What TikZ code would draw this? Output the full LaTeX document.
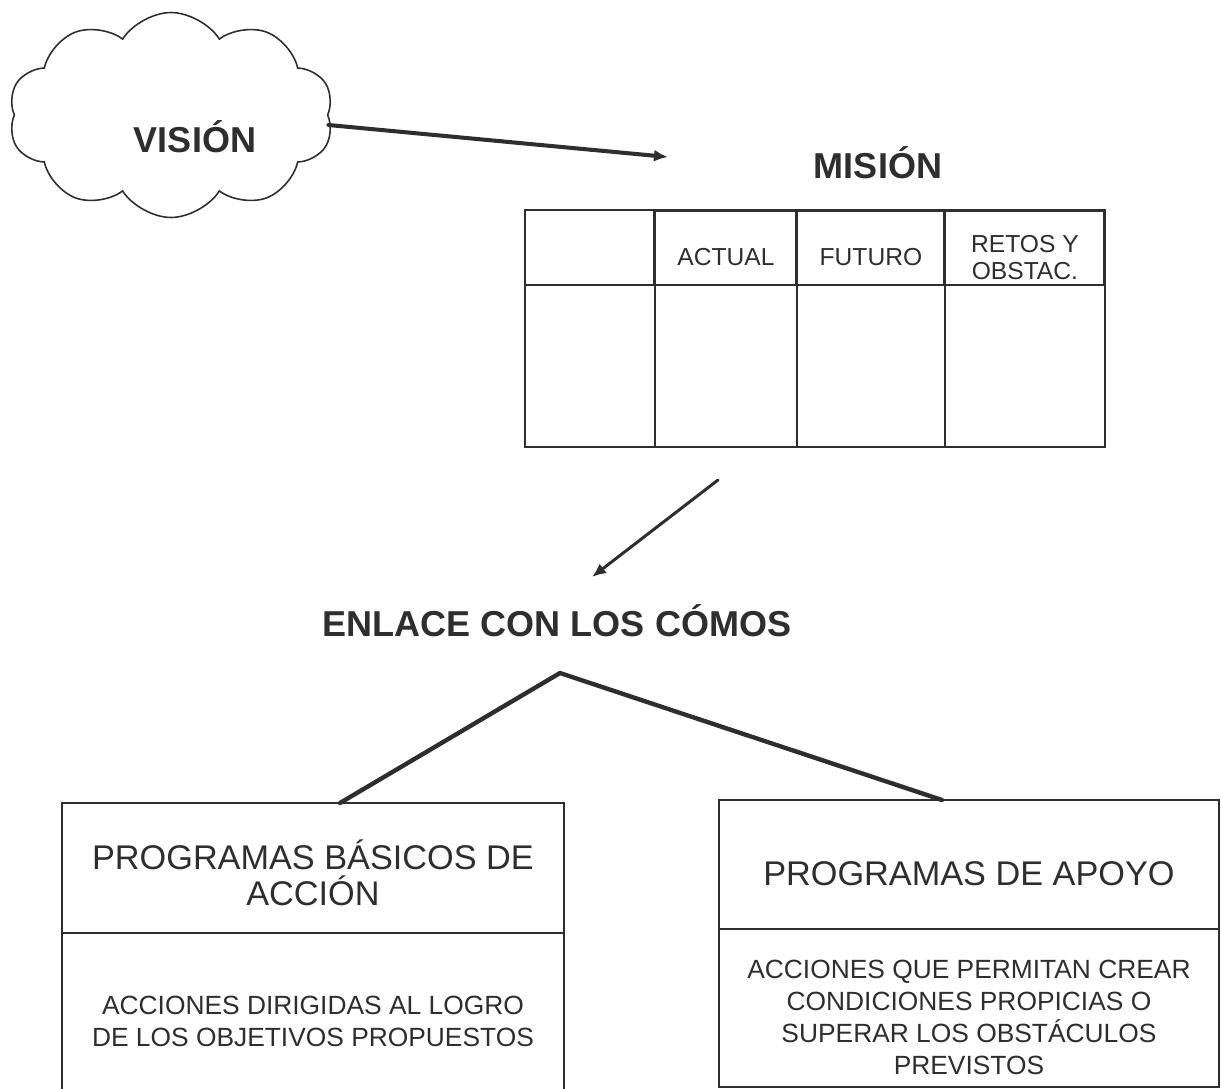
\documentclass[tikz,border=0pt]{standalone}
\usepackage{fontspec}
\setmainfont{Liberation Sans}
\usepackage{tikz}
\usetikzlibrary{arrows.meta}
\usetikzlibrary{shapes.symbols}
\usetikzlibrary{positioning}

\definecolor{ink}{gray}{0.18}
\tikzset{
    heading/.style={font=\fontsize{20.5}{22}\selectfont\bfseries, text=ink},
    cell/.style={draw=ink, line width=1.1pt, outer sep=0pt, inner sep=0pt},
    headcell/.style={cell, line width=1.7pt, align=center, font=\fontsize{14}{15}\selectfont, text=ink},
    panel/.style={draw=ink, line width=1.4pt, outer sep=0pt, inner sep=0pt},
    titletext/.style={align=center, text=ink, inner sep=0pt, font=\fontsize{19.5}{20.5}\selectfont},
    bodytext/.style={align=center, text=ink, inner sep=0pt, font=\fontsize{15}{18.2}\selectfont},
    link/.style={draw=ink, line width=2.5pt, line cap=round, line join=round},
    pointer/.style={draw=ink, line cap=round, -{Latex[length=2.8mm,width=2.4mm]}},
}

\begin{document}
\begin{tikzpicture}[x=0.02cm,y=-0.02cm]
            \useasboundingbox (0,0) rectangle (1221,1089);

            \node[cloud, draw=ink, line width=0.9pt, cloud puffs=10, cloud puff arc=115, aspect=1.6,
                  minimum width=6.5cm, minimum height=4.1cm] (vision-cloud) at (171,115) {};
            \node[heading] (vision) at (195,137) {VISIÓN};
            \node[heading] (mision) at (878,163) {MISIÓN};

            \node[cell, minimum width=2.6cm, minimum height=3.24cm, anchor=north west] (c0) at (525,285) {};
            \node[cell, minimum width=2.84cm, minimum height=3.24cm, right=0pt of c0] (c1) {};
            \node[cell, minimum width=2.96cm, minimum height=3.24cm, right=0pt of c1] (c2) {};
            \node[cell, minimum width=3.2cm, minimum height=3.24cm, right=0pt of c2] (c3) {};
            \node[cell, minimum width=2.6cm, minimum height=1.5cm, above=0pt of c0] (h0) {};
            \node[headcell, minimum width=2.84cm, minimum height=1.5cm, above=0pt of c1] (h1) {};
            \node[headcell, minimum width=2.96cm, minimum height=1.5cm, above=0pt of c2] (h2) {};
            \node[headcell, minimum width=3.2cm, minimum height=1.5cm, above=0pt of c3] (h3) {};
            \node[headcell, draw=none] (actual) at ([yshift=-0.2cm]h1.center) {ACTUAL};
            \node[headcell, draw=none] (futuro) at ([yshift=-0.2cm]h2.center) {FUTURO};
            \node[headcell, draw=none] (retos) at ([yshift=-0.2cm]h3.center) {RETOS Y\\OBSTAC.};

            \coordinate (mision-in) at (668,157);
            \coordinate (mision-out) at (718,480);
            \coordinate (enlace-in) at (592,577);
            \coordinate (apex) at (560,673);

            \draw[pointer, line width=2.3pt] ([yshift=-0.2cm]vision-cloud.east) -- (mision-in);
            \draw[pointer, line width=1.7pt] (mision-out) -- (enlace-in);

            \node[heading] (enlace) at (557,621) {ENLACE CON LOS CÓMOS};

            \node[panel, minimum width=10.04cm, minimum height=2.6cm, anchor=north west] (basicos) at (62,803) {};
            \node[panel, minimum width=10.04cm, minimum height=3.4cm, below=0pt of basicos] (basicos-body) {};
            \node[panel, minimum width=10cm, minimum height=2.58cm, anchor=north west] (apoyo) at (719,800) {};
            \node[panel, minimum width=10cm, minimum height=3.16cm, below=0pt of apoyo] (apoyo-body) {};

            \node[titletext] (basicos-title) at ([yshift=-0.1cm]basicos.center) {PROGRAMAS BÁSICOS DE\\ACCIÓN};
            \node[bodytext] (basicos-text) at ([yshift=-0.06cm]basicos-body.center)
                {ACCIONES DIRIGIDAS AL LOGRO\\DE LOS OBJETIVOS PROPUESTOS};
            \node[titletext] (apoyo-title) at ([yshift=-0.18cm]apoyo.center) {PROGRAMAS DE APOYO};
            \node[bodytext] (apoyo-text) at ([yshift=-0.19cm]apoyo-body.center)
                {ACCIONES QUE PERMITAN CREAR\\CONDICIONES PROPICIAS O\\SUPERAR LOS OBSTÁCULOS\\PREVISTOS};

            \draw[link] ([xshift=5.56cm]basicos.north west) -- (apex) -- ([xshift=4.46cm]apoyo.north west);
        \end{tikzpicture}
\end{document}
